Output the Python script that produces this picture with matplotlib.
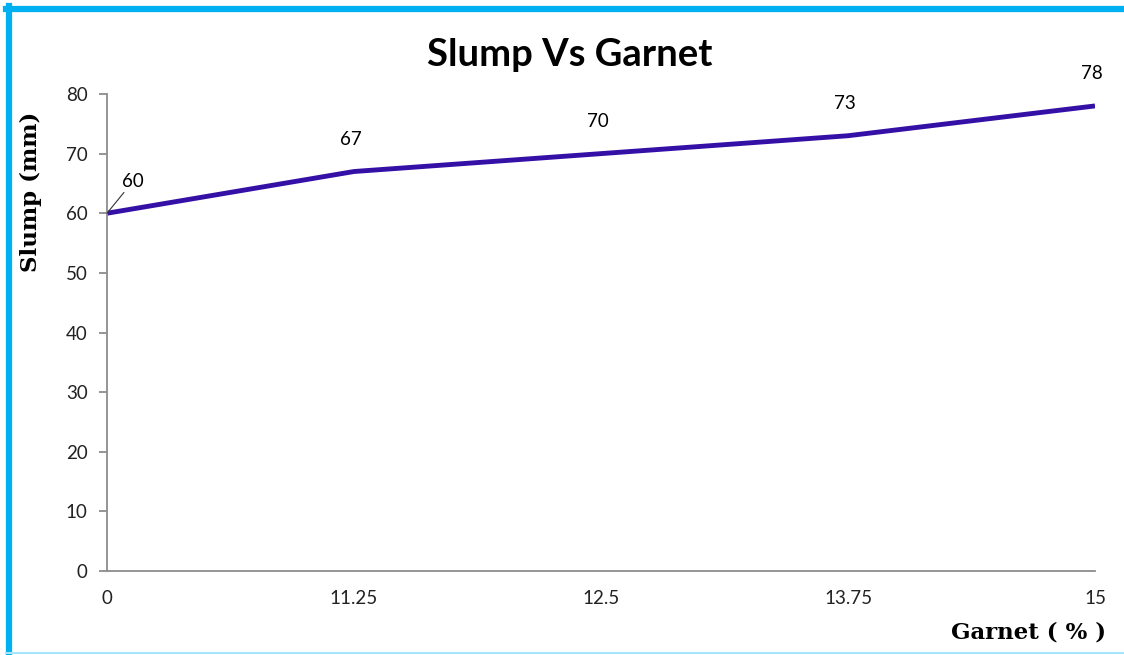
import matplotlib.pyplot as plt
from matplotlib.lines import Line2D

garnet = ['0', '11.25', '12.5', '13.75', '15']
slump = [60, 67, 70, 73, 78]
yticks = [0, 10, 20, 30, 40, 50, 60, 70, 80]

W, H = 1124, 655
fig = plt.figure(figsize=(W / 100, H / 100), dpi=100)
ax = fig.add_axes([107 / W, 1 - 571 / H, (1095 - 107) / W, (571 - 94) / H])

pos = list(range(len(garnet)))
ax.plot(pos, slump, color='#3510A6', lw=3.5, solid_capstyle='butt')

ax.set_xlim(0, len(garnet) - 1)
ax.set_ylim(0, 80)
ax.set_yticks(yticks)
ax.set_xticks(pos)
ax.set_xticklabels(garnet)
for s in ['top', 'right']:
    ax.spines[s].set_visible(False)
for s in ['left', 'bottom']:
    ax.spines[s].set_color('#8c8c8c')
    ax.spines[s].set_linewidth(1.3)
ax.tick_params(axis='y', length=6, color='#8c8c8c', width=1.3, pad=8,
               labelsize=13.5, labelcolor='#222222')
ax.tick_params(axis='x', length=0, pad=14, labelsize=13.5, labelcolor='#222222')
for lab in ax.get_xticklabels() + ax.get_yticklabels():
    lab.set_fontfamily('Lato')

# data labels, first one pulled off the axis with a leader line
for i, v in enumerate(slump):
    if i == 0:
        ax.annotate(str(v), (i, v), xytext=(11, 17), textcoords='offset points',
                    ha='left', va='bottom', fontsize=13.5, family='Lato',
                    arrowprops=dict(arrowstyle='-', color='#333333', lw=0.8,
                                    shrinkA=0, shrinkB=0))
    else:
        ax.annotate(str(v), (i, v), xytext=(-2, 17), textcoords='offset points',
                    ha='center', va='bottom', fontsize=13.5, family='Lato')

fig.text(570 / W, 1 - 55 / H, 'Slump Vs Garnet', ha='center', va='center',
         fontsize=27.5, fontweight='bold', family='Lato')
fig.text(31 / W, 1 - 192 / H, 'Slump (mm)', ha='center', va='center',
         rotation=90, fontsize=16.5, fontweight='bold', family='DejaVu Serif')
fig.text(1106 / W, 1 - 632 / H, 'Garnet ( % )', ha='right', va='center',
         fontsize=16.5, fontweight='bold', family='DejaVu Serif')

# frame around the picture
fig.add_artist(Line2D([8.5 / W, 8.5 / W], [0, 1 - 6 / H], transform=fig.transFigure,
                      color='#00B0F0', lw=4.5))
fig.add_artist(Line2D([6 / W, 1], [1 - 8.5 / H, 1 - 8.5 / H], transform=fig.transFigure,
                      color='#00B0F0', lw=4.5))
fig.add_artist(Line2D([6 / W, 1], [1 - 653 / H, 1 - 653 / H], transform=fig.transFigure,
                      color='#A6E4FA', lw=1.5))

fig.savefig('out.png', dpi=100)
